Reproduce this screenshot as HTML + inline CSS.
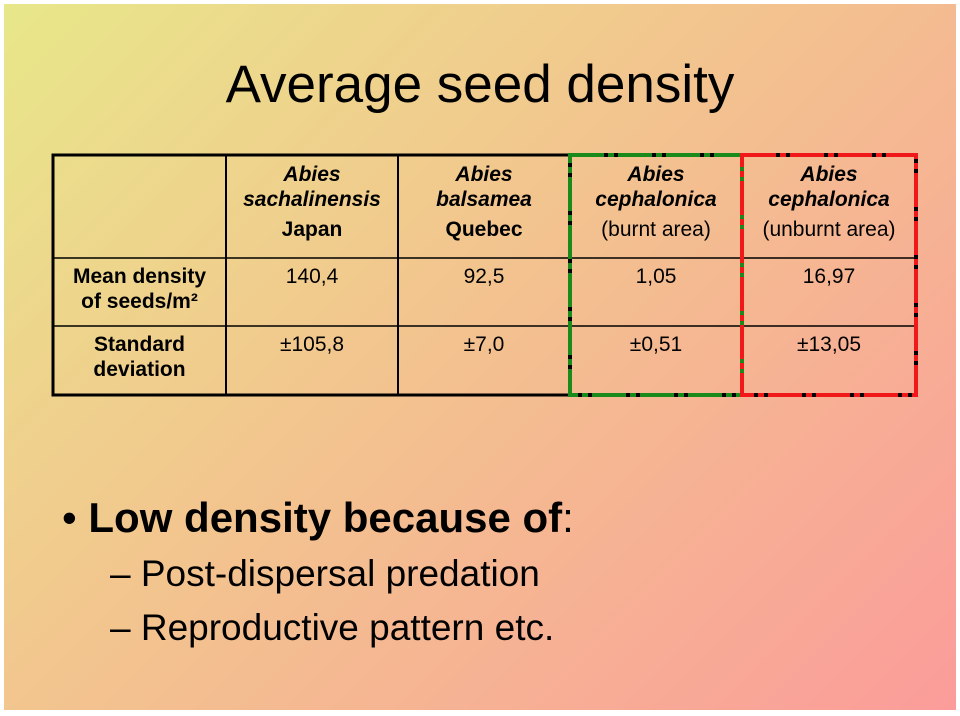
<!DOCTYPE html>
<html><head><meta charset="utf-8"><style>
html,body{margin:0;padding:0;background:#fff}
#slide{position:absolute;left:4px;top:4px;width:952px;height:706px;background:linear-gradient(135deg,#e8e78a 0%,#f2c68e 42%,#fb9c9a 100%);overflow:hidden;font-family:"Liberation Sans",sans-serif;color:#000}
.t{position:absolute;white-space:nowrap;text-align:center;font-size:21px;line-height:25px}
.b{font-weight:bold}.i{font-style:italic}
</style></head><body>
<div id="slide">
<div class="t" style="left:176px;width:600px;top:51px;font-size:53px;line-height:60px">Average seed density</div>
<svg width="952" height="706" style="position:absolute;left:0;top:0">
<g transform="translate(-4,-4)" fill="none">
<rect x="53" y="155" width="863" height="240" stroke="#000" stroke-width="3"/>
<line x1="226" y1="155" x2="226" y2="395" stroke="#000" stroke-width="2"/>
<line x1="398" y1="155" x2="398" y2="395" stroke="#000" stroke-width="2"/>
<line x1="53" y1="258" x2="916" y2="258" stroke="#000" stroke-width="1.5"/>
<line x1="53" y1="326" x2="916" y2="326" stroke="#000" stroke-width="1.5"/>
<rect x="570" y="155" width="172" height="240" stroke="#000" stroke-width="4"/>
<rect x="742" y="155" width="174" height="240" stroke="#000" stroke-width="4"/>
<rect x="570" y="155" width="172" height="240" stroke="#1a8a1a" stroke-width="4" stroke-dasharray="34 4 6 4"/>
<rect x="742" y="155" width="174" height="240" stroke="#f01818" stroke-width="4" stroke-dasharray="34 4 6 4"/>
</g></svg>
<div class="t b i" style="left:222px;width:172px;top:158px">Abies<br>sachalinensis</div>
<div class="t b" style="left:222px;width:172px;top:213px">Japan</div>
<div class="t b i" style="left:394px;width:172px;top:158px">Abies<br>balsamea</div>
<div class="t b" style="left:394px;width:172px;top:213px">Quebec</div>
<div class="t b i" style="left:566px;width:172px;top:158px">Abies<br>cephalonica</div>
<div class="t" style="left:566px;width:172px;top:213px">(burnt area)</div>
<div class="t b i" style="left:738px;width:174px;top:158px">Abies<br>cephalonica</div>
<div class="t" style="left:738px;width:174px;top:213px">(unburnt area)</div>
<div class="t b" style="left:49px;width:173px;top:260px">Mean density<br>of seeds/m²</div>
<div class="t b" style="left:49px;width:173px;top:328px">Standard<br>deviation</div>
<div class="t" style="left:222px;width:172px;top:260px">140,4</div>
<div class="t" style="left:394px;width:172px;top:260px">92,5</div>
<div class="t" style="left:566px;width:172px;top:260px">1,05</div>
<div class="t" style="left:738px;width:174px;top:260px">16,97</div>
<div class="t" style="left:222px;width:172px;top:328px">±105,8</div>
<div class="t" style="left:394px;width:172px;top:328px">±7,0</div>
<div class="t" style="left:566px;width:172px;top:328px">±0,51</div>
<div class="t" style="left:738px;width:174px;top:328px">±13,05</div>
<div class="t" style="left:58px;top:490px;text-align:left;font-size:42px;line-height:48px"><span style="font-weight:normal">•</span>&nbsp;<b>Low density because of</b>:</div>
<div class="t" style="left:106px;top:549px;text-align:left;font-size:37px;line-height:42px">– Post-dispersal predation</div>
<div class="t" style="left:106px;top:603px;text-align:left;font-size:37px;line-height:42px">– Reproductive pattern etc.</div>
</div>
</body></html>
